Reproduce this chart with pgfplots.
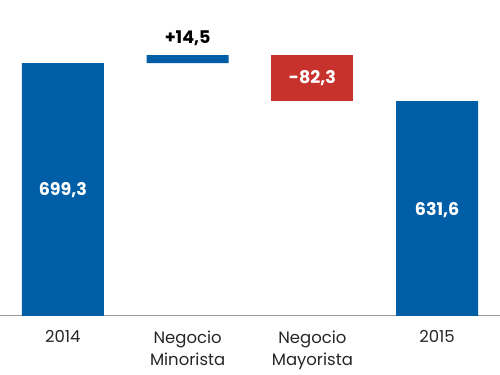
\documentclass[border=0pt]{standalone}
\usepackage{pgfplots}
\pgfplotsset{compat=1.18}
\usepackage{fontspec}
\setmainfont{Poppins}
\definecolor{bblue}{RGB}{0,94,166}
\definecolor{rred}{RGB}{200,50,45}
\begin{document}
\begin{tikzpicture}[x=1pt,y=1pt]
\begin{axis}[
  scale only axis, width=500pt, height=316pt,
  xmin=-0.5, xmax=3.5, ymin=250, ymax=812,
  ybar stacked, bar width=82pt,
  axis y line=none, axis x line=bottom,
  x axis line style={-, draw=gray!80, line width=1pt},
  xtick={0,1,2,3},
  xticklabels={2014,Negocio\\Minorista,Negocio\\Mayorista,2015},
  xticklabel style={align=center, font=\fontsize{16.5}{22}\selectfont, text=black!85, inner sep=0pt, yshift=-15pt},
  major tick length=0pt,
]
\addplot[fill=none, draw=none] coordinates {(0,0) (1,699.3) (2,631.6) (3,0)};
\addplot[fill=bblue, draw=none] coordinates {(0,699.3) (1,14.5) (2,0) (3,631.6)};
\addplot[fill=rred, draw=none] coordinates {(0,0) (1,0) (2,82.3) (3,0)};
\coordinate (l1) at (axis cs:0,474);
\coordinate (l2) at (axis cs:1,744);
\coordinate (l3) at (axis cs:2,672.5);
\coordinate (l4) at (axis cs:3,438);
\end{axis}
\node[text=white, font=\fontsize{17.5}{18}\selectfont\bfseries] at (l1) {699,3};
\node[text=black, font=\fontsize{17.5}{18}\selectfont\bfseries] at (l2) {+14,5};
\node[text=white, font=\fontsize{17.5}{18}\selectfont\bfseries] at (l3) {-82,3};
\node[text=white, font=\fontsize{17.5}{18}\selectfont\bfseries] at (l4) {631,6};
\path (0,-59) rectangle (500,316);
\end{tikzpicture}
\end{document}
